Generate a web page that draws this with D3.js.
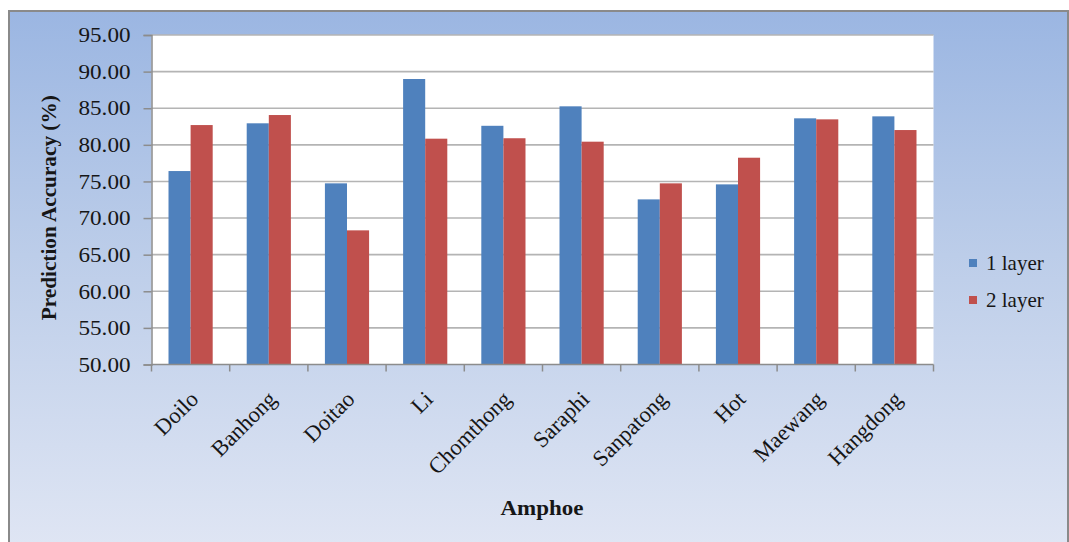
<!DOCTYPE html>
<html>
<head>
<meta charset="utf-8">
<script src="https://cdn.jsdelivr.net/npm/d3@7"></script>
<style>
  html, body { margin: 0; padding: 0; background: #ffffff; }
  svg { display: block; }
</style>
</head>
<body>
<svg id="chart" width="1069" height="542"></svg>
<script>
// Amphoe (district) names along the x axis
const categories = ["Doilo", "Banhong", "Doitao", "Li", "Chomthong", "Saraphi", "Sanpatong", "Hot", "Maewang", "Hangdong"];
// Prediction accuracy (%) per network depth
const oneLayer = [76.42, 82.94, 74.74, 88.99, 82.60, 85.26, 72.55, 74.60, 83.62, 83.89];
const twoLayer = [82.70, 84.07, 68.32, 80.84, 80.90, 80.43, 74.74, 78.24, 83.48, 82.02];
const seriesNames = ["1 layer", "2 layer"];
const seriesColors = ["#4f81bd", "#c0504d"];
const yTicks = [50, 55, 60, 65, 70, 75, 80, 85, 90, 95];

const W = 1069, H = 542;
const plot = { left: 151.5, right: 933.5, top: 35, bottom: 364.5 };
const font = "'Liberation Serif', 'Times New Roman', serif";
const ink = "#161616";

const svg = d3.select("#chart");

// Frame background gradient
const defs = svg.append("defs");
const grad = defs.append("linearGradient")
  .attr("id", "bg").attr("x1", 0).attr("y1", 0).attr("x2", 0).attr("y2", 1);
grad.append("stop").attr("offset", "0%").attr("stop-color", "#9bb6e2");
grad.append("stop").attr("offset", "45%").attr("stop-color", "#bccde9");
grad.append("stop").attr("offset", "100%").attr("stop-color", "#e0e6f4");

svg.append("rect")
  .attr("x", 9).attr("y", 11).attr("width", W - 10).attr("height", H)
  .attr("fill", "url(#bg)")
  .attr("stroke", "#8a8a8a").attr("stroke-width", 2);

// Plot area
svg.append("rect")
  .attr("x", plot.left).attr("y", plot.top)
  .attr("width", plot.right - plot.left).attr("height", plot.bottom - plot.top)
  .attr("fill", "#ffffff");

const x = d3.scaleBand()
  .domain(categories)
  .range([plot.left, plot.right])
  .paddingInner(0.435)
  .paddingOuter(0.2175);

const xSub = d3.scaleBand()
  .domain(seriesNames)
  .range([0, x.bandwidth()]);

const y = d3.scaleLinear()
  .domain([50, 95])
  .range([plot.bottom, plot.top]);

// Horizontal gridlines
svg.append("g")
  .selectAll("line")
  .data(yTicks.filter(t => t > 50))
  .join("line")
  .attr("x1", plot.left).attr("x2", plot.right)
  .attr("y1", d => y(d)).attr("y2", d => y(d))
  .attr("stroke", "#b4b4b4").attr("stroke-width", 1.6);

// Bars
const rows = categories.map((c, i) => ({ c, vals: [oneLayer[i], twoLayer[i]] }));
const groups = svg.append("g")
  .selectAll("g")
  .data(rows)
  .join("g")
  .attr("transform", d => `translate(${x(d.c)},0)`);

groups.selectAll("rect")
  .data(d => d.vals.map((v, k) => ({ name: seriesNames[k], v, k })))
  .join("rect")
  .attr("x", d => xSub(d.name))
  .attr("width", xSub.bandwidth())
  .attr("y", d => y(d.v))
  .attr("height", d => y(50) - y(d.v))
  .attr("fill", d => seriesColors[d.k]);

// Y axis
const yAxis = svg.append("g")
  .attr("transform", `translate(${plot.left},0)`)
  .call(d3.axisLeft(y).tickValues(yTicks).tickFormat(d3.format(".2f")).tickSize(8).tickPadding(13));
yAxis.select(".domain").attr("stroke", "#8c8c8c").attr("stroke-width", 1.5);
yAxis.selectAll(".tick line").attr("stroke", "#8c8c8c").attr("stroke-width", 1.5);
yAxis.selectAll("text")
  .attr("font-family", font).attr("font-size", 21).attr("fill", ink)
  .attr("textLength", 52).attr("lengthAdjust", "spacingAndGlyphs");

// X axis: baseline and boundary ticks between categories
const xAxisG = svg.append("g");
xAxisG.append("line")
  .attr("x1", plot.left).attr("x2", plot.right)
  .attr("y1", plot.bottom).attr("y2", plot.bottom)
  .attr("stroke", "#8c8c8c").attr("stroke-width", 1.5);
const boundaries = categories.map(c => x(c) - x.step() * x.paddingInner() / 2)
  .concat([plot.right]);
xAxisG.selectAll("line.tick")
  .data(boundaries)
  .join("line")
  .attr("class", "tick")
  .attr("x1", d => d).attr("x2", d => d)
  .attr("y1", plot.bottom).attr("y2", plot.bottom + 7)
  .attr("stroke", "#8c8c8c").attr("stroke-width", 1.5);

// Rotated category labels
xAxisG.selectAll("text")
  .data(categories)
  .join("text")
  .attr("transform", d => `translate(${x(d) + x.bandwidth() / 2 + 9},${plot.bottom + 36}) rotate(-45)`)
  .attr("text-anchor", "end")
  .attr("font-family", font).attr("font-size", 22.5).attr("fill", ink)
  .text(d => d);

// Axis titles
svg.append("text")
  .attr("transform", `translate(56,${(plot.top + plot.bottom) / 2 + 8}) rotate(-90)`)
  .attr("text-anchor", "middle")
  .attr("font-family", font).attr("font-size", 20).attr("font-weight", "bold").attr("fill", ink)
  .attr("textLength", 225).attr("lengthAdjust", "spacingAndGlyphs")
  .text("Prediction Accuracy (%)");

svg.append("text")
  .attr("x", 542).attr("y", 515)
  .attr("text-anchor", "middle")
  .attr("font-family", font).attr("font-size", 22).attr("font-weight", "bold").attr("fill", ink)
  .attr("textLength", 83).attr("lengthAdjust", "spacingAndGlyphs")
  .text("Amphoe");

// Legend
const legend = svg.append("g").attr("transform", "translate(969,0)");
const legendY = [263, 300];
seriesNames.forEach((n, i) => {
  legend.append("rect")
    .attr("x", 0).attr("y", legendY[i] - 4).attr("width", 8).attr("height", 8)
    .attr("fill", seriesColors[i]);
  legend.append("text")
    .attr("x", 17).attr("y", legendY[i] + 7)
    .attr("font-family", font).attr("font-size", 21).attr("fill", ink)
    .text(n);
});
</script>
</body>
</html>
